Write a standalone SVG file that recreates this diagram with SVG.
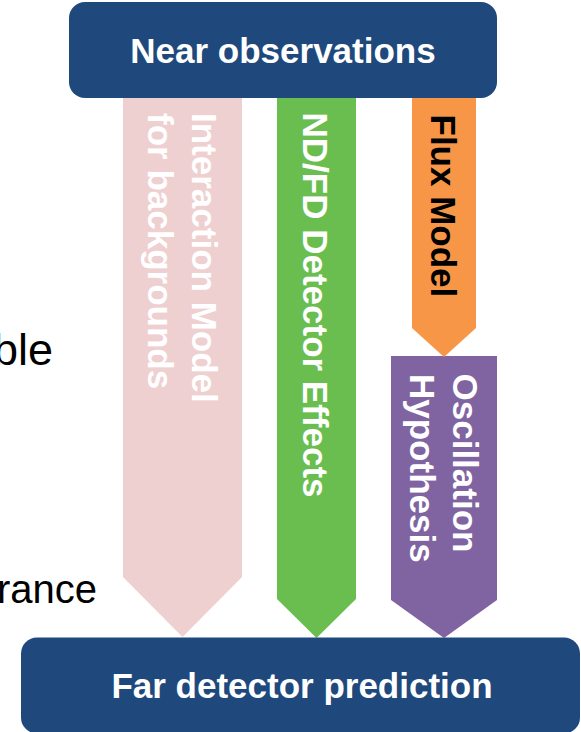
<svg xmlns="http://www.w3.org/2000/svg" width="581" height="732" viewBox="0 0 581 732">
  <style>
    .box { fill: #1F497D; }
    .box-label { font-family: "Liberation Sans", Arial, sans-serif; font-weight: bold; font-size: 35px; fill: #FFFFFF; text-anchor: middle; }
    .arrow-label { font-family: "Liberation Sans", Arial, sans-serif; font-weight: bold; font-size: 35px; fill: #FFFFFF; }
    .dark { fill: #000000; }
    .side-text { font-family: "Liberation Sans", Arial, sans-serif; font-size: 40px; fill: #000000; text-anchor: end; }
  </style>

  <!-- partial side texts from the neighbouring layout -->
  <text class="side-text" x="53" y="365" style="font-size:45px">ble</text>
  <text class="side-text" x="97" y="603">rance</text>

  <!-- block arrows linking the two boxes -->
  <g id="connectors">
    <g id="interaction-model">
      <polygon points="123,96 242,96 242,577 182.5,637 123,577" fill="#EFD0D1"/>
      <text class="arrow-label" transform="translate(192,113) rotate(90)">Interaction Model</text>
      <text class="arrow-label" transform="translate(148,113) rotate(90)">for backgrounds</text>
    </g>
    <g id="detector-effects">
      <polygon points="277,96 356,96 356,599 316.5,638 277,599" fill="#69BE4F"/>
      <text class="arrow-label" transform="translate(302.5,112.5) rotate(90)">ND/FD Detector Effects</text>
    </g>
    <g id="oscillation-hypothesis">
      <polygon points="391,356 497,356 497,600 444,638 391,600" fill="#8064A2"/>
      <text class="arrow-label" transform="translate(453,373.5) rotate(90)">Oscillation</text>
      <text class="arrow-label" transform="translate(410,374) rotate(90)">Hypothesis</text>
    </g>
    <g id="flux-model">
      <polygon points="412,96 476,96 476,328 444,357 412,328" fill="#F79646"/>
      <text class="arrow-label dark" transform="translate(431,114.5) rotate(90)">Flux Model</text>
    </g>
  </g>

  <g id="near-observations">
    <rect class="box" x="69" y="2" width="428" height="96" rx="16"/>
    <text class="box-label" x="283" y="62.5">Near observations</text>
  </g>

  <g id="far-detector-prediction">
    <rect class="box" x="21" y="637.5" width="559" height="96" rx="16"/>
    <text class="box-label" x="302" y="697.5">Far detector prediction</text>
  </g>
</svg>
